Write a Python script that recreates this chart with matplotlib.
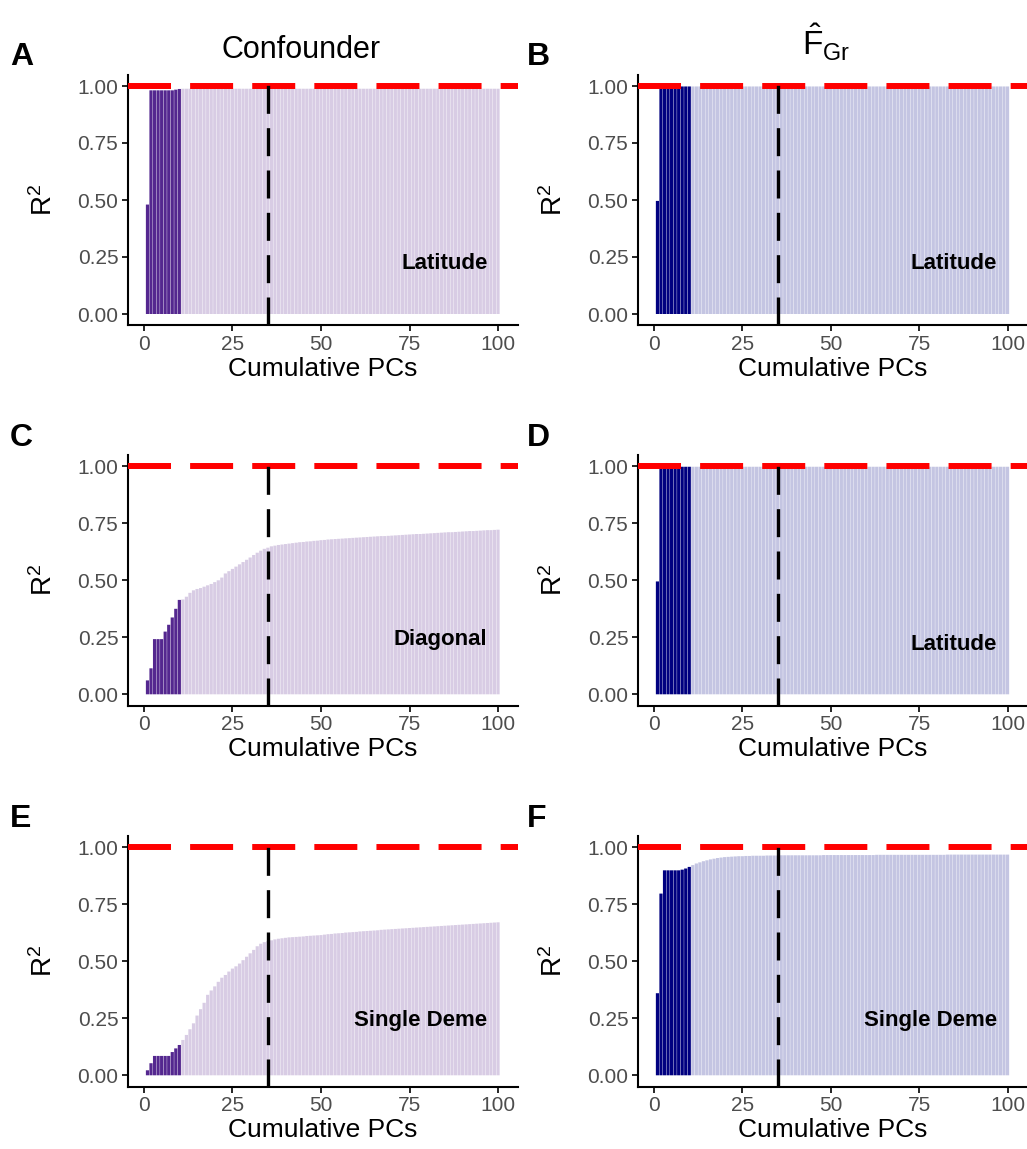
import numpy as np
import matplotlib
matplotlib.use('Agg')
import matplotlib.pyplot as plt

plt.rcParams['font.family'] = ['Liberation Sans', 'DejaVu Sans']
plt.rcParams['mathtext.fontset'] = 'custom'
plt.rcParams['mathtext.rm'] = 'Liberation Sans'
plt.rcParams['mathtext.sf'] = 'Liberation Sans'
plt.rcParams['mathtext.it'] = 'Liberation Sans:italic'

pcs = np.arange(1, 101)
n_top = 10
pc_cutoff = 35

# R^2 of each confounder on the first k PCs (k = 1..100)
conf_latitude = [0.480] + [0.981] * 7 + [0.984, 0.987] + [0.988] * 90

conf_diagonal = [
    0.061, 0.114, 0.242, 0.242, 0.242, 0.275, 0.305, 0.337, 0.375, 0.414,
    0.416, 0.428, 0.445, 0.456, 0.462, 0.466, 0.472, 0.478, 0.484, 0.492,
    0.500, 0.512, 0.530, 0.540, 0.550, 0.560, 0.570, 0.580, 0.590, 0.600,
    0.611, 0.621, 0.630, 0.638, 0.643, 0.649, 0.652, 0.655, 0.657, 0.659,
    0.661, 0.663, 0.665, 0.667, 0.668, 0.670, 0.671, 0.673, 0.674, 0.676,
    0.677, 0.679, 0.680, 0.681, 0.682, 0.683, 0.684, 0.685, 0.686, 0.687,
    0.688, 0.689, 0.690, 0.691, 0.692, 0.693, 0.694, 0.694, 0.695, 0.696,
    0.697, 0.698, 0.699, 0.700, 0.701, 0.702, 0.703, 0.703, 0.704, 0.705,
    0.706, 0.707, 0.708, 0.709, 0.710, 0.711, 0.711, 0.712, 0.713, 0.714,
    0.715, 0.716, 0.716, 0.717, 0.718, 0.719, 0.720, 0.720, 0.721, 0.722,
]

conf_single = [
    0.022, 0.053, 0.085, 0.085, 0.085, 0.085, 0.085, 0.102, 0.118, 0.133,
    0.155, 0.177, 0.202, 0.228, 0.262, 0.290, 0.318, 0.353, 0.372, 0.390,
    0.410, 0.428, 0.440, 0.455, 0.468, 0.478, 0.490, 0.505, 0.520, 0.535,
    0.550, 0.566, 0.577, 0.584, 0.588, 0.592, 0.596, 0.599, 0.601, 0.603,
    0.605, 0.606, 0.607, 0.608, 0.609, 0.611, 0.612, 0.613, 0.614, 0.615,
    0.617, 0.619, 0.620, 0.622, 0.623, 0.624, 0.626, 0.627, 0.628, 0.629,
    0.631, 0.632, 0.633, 0.634, 0.635, 0.636, 0.638, 0.639, 0.640, 0.641,
    0.642, 0.643, 0.644, 0.645, 0.646, 0.647, 0.648, 0.649, 0.650, 0.651,
    0.652, 0.653, 0.654, 0.655, 0.656, 0.657, 0.658, 0.659, 0.660, 0.661,
    0.662, 0.663, 0.664, 0.665, 0.666, 0.667, 0.668, 0.669, 0.670, 0.671,
]

# R^2 of F_Gr hat on the first k PCs
fgr_latitude = [0.496] + [0.998] * 99
fgr_latitude_2 = [0.495] + [0.998] * 99

fgr_single = (
    [0.360, 0.797, 0.899, 0.899, 0.899, 0.899, 0.899, 0.902, 0.907, 0.914,
     0.922, 0.929, 0.934, 0.939, 0.943, 0.947, 0.950, 0.953, 0.955, 0.957,
     0.958, 0.959, 0.960, 0.961, 0.961, 0.962, 0.962, 0.963, 0.963, 0.963,
     0.963, 0.964, 0.964, 0.964, 0.964]
    + [0.965] * 12 + [0.966] * 15 + [0.967] * 20 + [0.968] * 18
)

purple_dark, purple_light = '#54278F', '#D8CCE4'
navy_dark, navy_light = '#000080', '#C4C5E2'

W, H = 1027, 1149
col_left = [128, 638]
col_width = [389.5, 389]
row_bottom = [325.4, 705.7, 1086.7]
row_height = 250.8

panels = [
    ('A', conf_latitude, 'Latitude', 0.22, purple_dark, purple_light, 0, 0),
    ('B', fgr_latitude, 'Latitude', 0.22, navy_dark, navy_light, 0, 1),
    ('C', conf_diagonal, 'Diagonal', 0.24, purple_dark, purple_light, 1, 0),
    ('D', fgr_latitude_2, 'Latitude', 0.22, navy_dark, navy_light, 1, 1),
    ('E', conf_single, 'Single Deme', 0.24, purple_dark, purple_light, 2, 0),
    ('F', fgr_single, 'Single Deme', 0.24, navy_dark, navy_light, 2, 1),
]

fig = plt.figure(figsize=(W / 100, H / 100), dpi=100)

for letter, vals, label, label_y, dark, light, row, col in panels:
    ax = fig.add_axes([col_left[col] / W, 1 - row_bottom[row] / H,
                       col_width[col] / W, row_height / H])
    colors = [dark if p <= n_top else light for p in pcs]
    ax.bar(pcs, vals, width=0.9, color=colors, linewidth=0, snap=False)
    ax.axhline(1, color='red', lw=4.3, linestyle=(0, (7.2, 3.2)), zorder=3)
    ax.axvline(pc_cutoff, color='black', lw=2.4, linestyle=(0, (8.4, 4.3)), zorder=4)

    ax.set_xlim(-4.5, 105.5)
    ax.set_ylim(-0.05, 1.05)
    ax.set_xticks([0, 25, 50, 75, 100])
    ax.set_yticks([0, 0.25, 0.5, 0.75, 1.0])
    ax.set_yticklabels(['0.00', '0.25', '0.50', '0.75', '1.00'])
    ax.tick_params(labelsize=15, labelcolor='#4D4D4D', length=4, width=1.2, pad=3)
    for side in ['top', 'right']:
        ax.spines[side].set_visible(False)
    for side in ['left', 'bottom']:
        ax.spines[side].set_linewidth(1.5)

    ax.text(97, label_y, label, ha='right', va='center', fontweight='bold', fontsize=16)
    ax.set_xlabel('Cumulative PCs', fontsize=19, labelpad=2)
    ax.set_ylabel('R$^2$', fontsize=20, labelpad=14)

    fig.text((10 + col * 517) / W, 1 - (57 + row * 381) / H, letter,
             fontsize=23, fontweight='bold', ha='left', va='center')

fig.text(301 / W, 1 - 50 / H, 'Confounder', fontsize=22, ha='center', va='center')
fig.text(826 / W, 1 - 42 / H, r'$\hat{\mathrm{F}}_{\mathrm{Gr}}$', fontsize=24,
         ha='center', va='center')

plt.savefig('out.png', dpi=100)
